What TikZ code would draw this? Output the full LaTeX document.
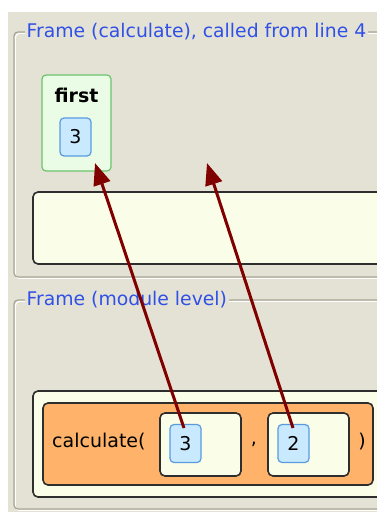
\documentclass[tikz,border=0pt]{standalone}
\usepackage{fontspec}
\usetikzlibrary{arrows.meta}
\newfontfamily\uifont{DejaVu Sans}
\definecolor{panelbg}{HTML}{E4E2D5}
\definecolor{framegrey}{HTML}{A8A595}
\definecolor{titleblue}{HTML}{3050E6}
\definecolor{greenfill}{HTML}{EAFBE6}
\definecolor{greenline}{HTML}{6CC46C}
\definecolor{valfill}{HTML}{C9E9FF}
\definecolor{valline}{HTML}{5A9BE0}
\definecolor{ivory}{HTML}{FAFDE8}
\definecolor{darkline}{HTML}{2E2E2E}
\definecolor{callorange}{HTML}{FFB36A}
\definecolor{refred}{HTML}{800000}
\tikzset{
  ui/.style={font=\uifont\fontsize{19}{22}\selectfont, text=black},
  frametitle/.style={font=\uifont\fontsize{18.8}{22}\selectfont, text=titleblue,
    fill=panelbg, inner xsep=1.5pt, inner ysep=0pt, anchor=west},
  groupline/.style={draw=framegrey, line width=1.3pt, rounded corners=4pt},
  grouphl/.style={draw=white, line width=1.1pt, rounded corners=4pt},
  varbox/.style={draw=greenline, fill=greenfill, line width=1.2pt, rounded corners=4pt,
    inner sep=0pt},
  valbox/.style={draw=valline, fill=valfill, line width=1.2pt, rounded corners=4pt,
    inner sep=0pt, minimum width=31pt, minimum height=38pt, ui},
  ivorybox/.style={draw=darkline, fill=ivory, line width=1.6pt, rounded corners=5pt,
    inner sep=0pt},
  callbox/.style={draw=darkline, fill=callorange, line width=1.6pt, rounded corners=5pt,
    inner sep=0pt},
  refarrow/.style={draw=refred, line width=3pt,
    -{Triangle[length=22pt,width=17pt]}},
}
\begin{document}
\begin{tikzpicture}[x=1pt, y=-1pt]
  \clip (0,0) rectangle (377,514);
  \fill[white] (0,0) rectangle (377,514);
  \fill[panelbg] (8,12) rectangle (377,512);

  % stack frame of the called function
  \draw[grouphl] (15.4,33.4) rectangle (420,278.4);
  \draw[groupline] (14,32) rectangle (420,277);
  \node[frametitle] (ftop) at (25,32) {Frame (calculate), called from line 4};

  \node[varbox, minimum width=69pt, minimum height=96pt] (first) at (76.5,123) {};
  \node[ui, font=\uifont\bfseries\fontsize{19}{22}\selectfont] (firstlbl) at (76.5,95) {first};
  \node[valbox] (v1) at (75.5,137) {3};

  \node[ivorybox, minimum width=367pt, minimum height=72pt] (retbox) at (216.5,228) {};

  % module-level frame
  \draw[grouphl] (15.4,301.4) rectangle (420,510.4);
  \draw[groupline] (14,300) rectangle (420,509);
  \node[frametitle] (fbot) at (25,300) {Frame (module level)};

  \node[ivorybox, minimum width=367pt, minimum height=106pt] (stmt) at (216.5,444) {};
  \node[callbox, minimum width=330pt, minimum height=82pt] (call) at (208,444) {};
  \node[ui, anchor=west, inner sep=0pt] (fname) at (52,442) {calculate(};
  \node[ivorybox, minimum width=81pt, minimum height=63pt] (arg1) at (200.5,444.5) {};
  \node[ivorybox, minimum width=81pt, minimum height=63pt] (arg2) at (308.5,444.5) {};
  \node[ui] (comma) at (254,444) {,};
  \node[ui] (rpar) at (362,442) {)};
  \node[valbox] (v3) at (185.5,443.5) {3};
  \node[valbox] (v2) at (293.5,443.5) {2};

  % references from the argument values to the frame variables
  \coordinate (s1) at (184,428);
  \coordinate (t1) at (95,163);
  \coordinate (s2) at (293,428);
  \coordinate (t2) at (207,163);
  \draw[refarrow] (s1) -- (t1);
  \draw[refarrow] (s2) -- (t2);
\end{tikzpicture}
\end{document}
